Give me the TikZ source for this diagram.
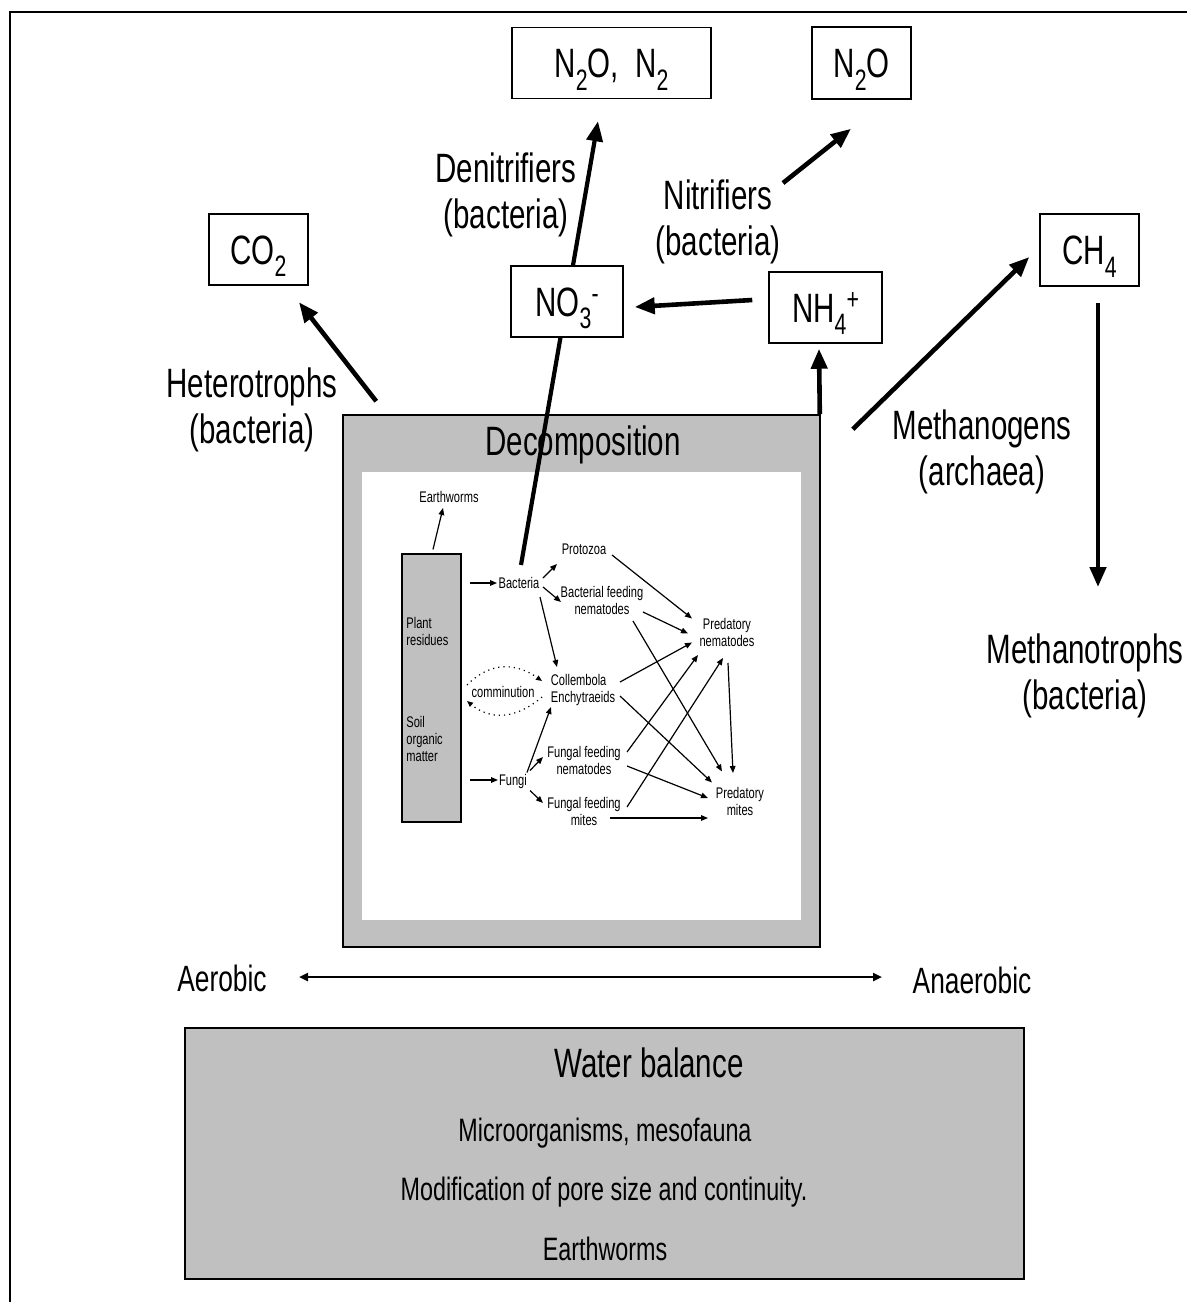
\documentclass[tikz,border=0pt]{standalone}
\usepackage{fontspec}
\setmainfont{Liberation Sans}[FakeStretch=0.72]
\usepackage{graphicx}
\usetikzlibrary{arrows.meta,calc}
\definecolor{boxgray}{RGB}{192,192,192}
\newcommand\fmain{\fontsize{20.5}{23}\selectfont}
\newcommand\fsm{\fontsize{7.7}{8.5}\selectfont}
\newcommand\faer{\fontsize{18.3}{21}\selectfont}
\newcommand\fwat{\fontsize{16.2}{19}\selectfont}
\newcommand\dn[1]{\raisebox{-0.3em}{\scalebox{0.72}{#1}}}
\newcommand\upx[1]{\raisebox{0.3em}{\scalebox{0.72}{#1}}}
\begin{document}
\begin{tikzpicture}[x=0.5pt,y=-0.5pt,
  chem/.style={draw=black,line width=0.75pt,fill=white,inner sep=0pt,font=\fmain,text height=14.7pt,text depth=0pt},
  lbl/.style={font=\fmain,align=center,inner sep=0pt},
  sm/.style={font=\fsm,align=center,inner sep=0pt},
  graybox/.style={draw=black,line width=0.8pt,fill=boxgray,inner sep=0pt},
  bigarrow/.style={line width=2.3pt,-{Triangle[length=10pt,width=8pt]}},
  thinarrow/.style={line width=0.6pt,-{Triangle[length=3.5pt,width=2.8pt]}},
  dotarrow/.style={line width=0.6pt,dotted,-{Triangle[length=3pt,width=2.5pt]}},
]
\useasboundingbox (0,0) rectangle (1187,1302);
\fill[white] (0,0) rectangle (1187,1302);
\draw[line width=0.8pt] (10,1302) -- (10,12) -- (1187,12);

% top gas boxes
\node[chem,minimum width=99.5pt,minimum height=35.5pt] (n2on2) at (611.5,63) {N\dn{2}O,\ \ N\dn{2}};
\node[chem,minimum width=49.5pt,minimum height=36pt] (n2o) at (861.5,63) {N\dn{2}O};
\node[chem,minimum width=49.5pt,minimum height=35.5pt] (co2) at (258.5,249.5) {CO\dn{2}};
\node[chem,minimum width=49.5pt,minimum height=36pt] (ch4) at (1089.5,250) {CH\dn{4}};
\node[chem,minimum width=56.5pt,minimum height=35.5pt] (nh4) at (825.5,307.5) {NH\dn{4}\upx{+}};

% labels
\node[lbl] (het) at (252,410) {Heterotrophs\\(bacteria)};
\node[lbl] (denit) at (506,195) {Denitrifiers\\(bacteria)};
\node[lbl] (nitr) at (718,222) {Nitrifiers\\(bacteria)};
\node[lbl] (mgen) at (982,452) {Methanogens\\(archaea)};
\node[lbl] (mtroph) at (1085,676) {Methanotrophs\\(bacteria)};

% decomposition box
\node[graybox,minimum width=238.5pt,minimum height=266pt] (decomp) at (581.5,681) {};
\node[fill=white,inner sep=0pt,minimum width=219.5pt,minimum height=224pt] (inner) at (581.5,696) {};
\node[font=\fmain,anchor=base,inner sep=0pt] (dtitle) at (583,455) {Decomposition};

% food web
\node[graybox,line width=0.6pt,minimum width=29.5pt,minimum height=134pt] (pbox) at (431.5,688) {};
\node[sm,align=left,anchor=west] (plant) at (406,631.5) {Plant\\residues};
\node[sm,align=left,anchor=west] (som) at (406,739) {Soil\\organic\\matter};
\node[sm] (ew) at (449,497) {Earthworms};
\node[sm] (bact) at (519,583) {Bacteria};
\node[sm] (proto) at (584,549) {Protozoa};
\node[sm] (bfn) at (602,600) {Bacterial feeding\\nematodes};
\node[sm] (pnem) at (727,632.5) {Predatory\\nematodes};
\node[sm,align=left] (coll) at (583,690) {Collembola\\Enchytraeids};
\node[sm] (comm) at (503,692) {comminution};
\node[sm] (fungi) at (513,781.5) {Fungi};
\node[sm] (ffn) at (584,760.5) {Fungal feeding\\nematodes};
\node[sm] (ffm) at (584,811.5) {Fungal feeding\\mites};
\node[sm] (pmit) at (740,801.5) {Predatory\\mites};

\draw[thinarrow] ($(pbox.north)+(1.5,-4)$) -- ($(ew)+(-6,11)$);
\draw[thinarrow] ($(bact)+(-49,0)$) -- ($(bact)+(-22,0)$);
\draw[thinarrow] ($(bact)+(24,-5)$) -- ($(proto)+(-27,15)$);
\draw[thinarrow] ($(bact)+(24,4)$) -- ($(bfn)+(-41,2)$);
\draw[thinarrow] ($(bact)+(21,14)$) -- ($(coll)+(-26,-23)$);
\draw[thinarrow] ($(proto)+(28,6)$) -- ($(pnem)+(-35,-14)$);
\draw[thinarrow] ($(bfn)+(41,12)$) -- ($(pnem)+(-39,1)$);
\draw[thinarrow] ($(bfn)+(31,21)$) -- ($(pmit)+(-18,-30)$);
\draw[thinarrow] ($(coll)+(37,-8)$) -- ($(pnem)+(-35,10)$);
\draw[thinarrow] ($(coll)+(37,6)$) -- ($(pmit)+(-28,-19)$);
\draw[thinarrow] ($(fungi)+(-43,-1.5)$) -- ($(fungi)+(-15,-1.5)$);
\draw[thinarrow] ($(fungi)+(14,-9)$) -- ($(coll)+(-32,17)$);
\draw[thinarrow] ($(fungi)+(17,-11)$) -- ($(ffn)+(-41,-3.5)$);
\draw[thinarrow] ($(fungi)+(17,9)$) -- ($(ffm)+(-41,-8.5)$);
\draw[thinarrow] ($(ffn)+(43,-8.5)$) -- ($(pnem)+(-29,22.5)$);
\draw[thinarrow] ($(ffn)+(43,5.5)$) -- ($(pmit)+(-32,-3.5)$);
\draw[thinarrow] ($(ffm)+(43,-4.5)$) -- ($(pnem)+(-4,25.5)$);
\draw[thinarrow] ($(ffm)+(26,6.5)$) -- ($(pmit)+(-32,16.5)$);
\draw[thinarrow] ($(pnem)+(1,30.5)$) -- ($(pmit)+(-7,-28.5)$);
\draw[dotarrow] ($(comm)+(-36,-7)$) .. controls ($(comm)+(-13,-30)$) and ($(comm)+(12,-30)$) .. ($(comm)+(39,-11)$);
\draw[dotarrow] ($(comm)+(39,5)$) .. controls ($(comm)+(12,28)$) and ($(comm)+(-13,28)$) .. ($(comm)+(-36,9)$);

% bacteria -> N2O, N2 (passes under NO3- box)
\draw[line width=2.1pt,-{Triangle[length=10pt,width=8pt]}] ($(bact)+(2,-18)$) -- ($(n2on2.south)+(-13.5,22)$);
\node[chem,minimum width=56pt,minimum height=35.5pt] (no3) at (567,301.5) {NO\dn{3}\upx{-}};

% big arrows
\draw[bigarrow] ($(decomp.north west)+(34,-13)$) -- ($(co2.south)+(40.5,16.5)$);
\draw[bigarrow] ($(nh4.west)+(-16,-7.5)$) -- ($(no3.east)+(11,5.5)$);
\draw[bigarrow] ($(decomp.north east)+(-1,0)$) -- ($(nh4.south)+(-6.5,5)$);
\draw[bigarrow] ($(nitr)+(65,-39)$) -- ($(n2o.south)+(-10.5,29)$);
\draw[bigarrow] ($(decomp.north east)+(32,15)$) -- ($(ch4.west)+(-10,7)$);
\draw[bigarrow] ($(ch4.south)+(8.5,16)$) -- ($(mtroph)+(13,-89)$);

% aerobic / anaerobic
\node[font=\faer,anchor=base,inner sep=0pt] (aer) at (222,991) {Aerobic};
\node[font=\faer,anchor=base,inner sep=0pt] (anaer) at (972,993) {Anaerobic};
\draw[line width=1.2pt,{Triangle[length=4.5pt,width=4pt]}-{Triangle[length=4.5pt,width=4pt]}] ($(aer.base)+(77,-14)$) -- ($(anaer.base)+(-90,-16)$);

% water balance
\node[graybox,minimum width=419.5pt,minimum height=125.5pt] (water) at (604.5,1153.5) {};
\node[font=\fmain,anchor=base,inner sep=0pt] (wtitle) at (649,1077) {Water balance};
\node[font=\fwat,anchor=base,inner sep=0pt] (wl1) at (605,1141) {Microorganisms, mesofauna};
\node[font=\fwat,anchor=base,inner sep=0pt] (wl2) at (604,1200) {Modification of pore size and continuity.};
\node[font=\fwat,anchor=base,inner sep=0pt] (wl3) at (605,1260) {Earthworms};
\end{tikzpicture}
\end{document}
